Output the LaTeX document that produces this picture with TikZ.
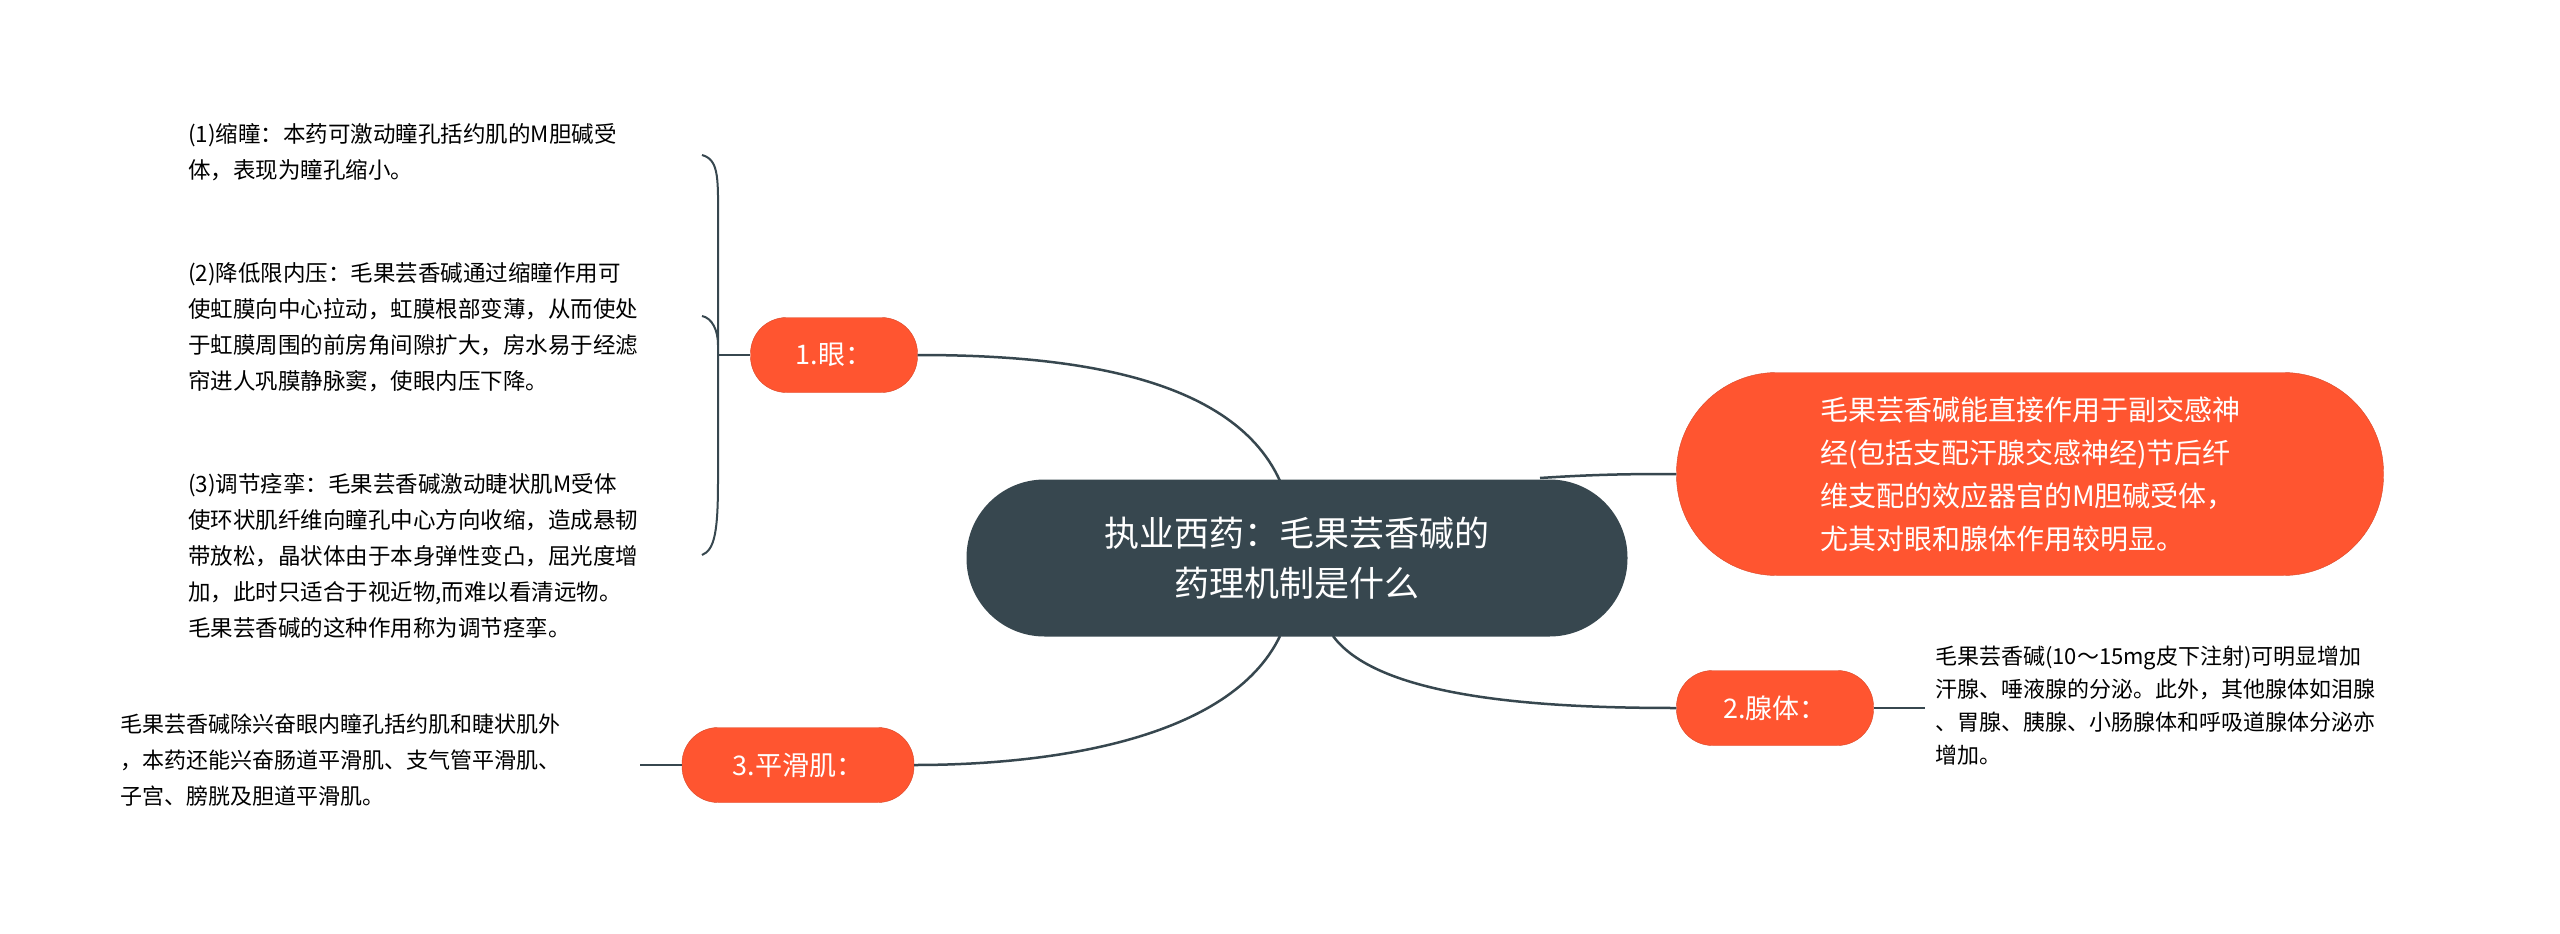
\documentclass[tikz,border=0pt]{standalone}
\usepackage{fontspec}
\setmainfont{Noto Sans CJK SC}
\begin{document}
\begin{tikzpicture}[x=1pt,y=-1pt,
  conn/.style={draw=ctr,line width=2.5pt},
  branch/.style={fill=org,draw=org!85!black,rounded corners=36pt,text=white,font=\fontsize{27}{33}\selectfont,minimum height=75pt,inner sep=0pt},
  small/.style={font=\fontsize{22.5}{36}\selectfont,align=left,anchor=north west,inner sep=0pt}]
\definecolor{ctr}{HTML}{37474F}
\definecolor{org}{HTML}{FF5530}
\useasboundingbox (0,0) rectangle (2560,934);
\fill[white] (0,0) rectangle (2560,934);
% center
\node[fill=ctr,rounded corners=78pt,minimum width=661pt,minimum height=157pt,text=white,align=center,font=\fontsize{35}{50}\selectfont] (c) at (1297,558) {执业西药：毛果芸香碱的\\药理机制是什么};
% right
\node[fill=org,draw=org!85!black,rounded corners=100pt,minimum width=707pt,minimum height=203pt,text=white,align=left,font=\fontsize{28}{43}\selectfont] (r) at (2030,474) {毛果芸香碱能直接作用于副交感神\\经(包括支配汗腺交感神经)节后纤\\维支配的效应器官的M胆碱受体，\\尤其对眼和腺体作用较明显。};
% branches
\node[branch,minimum width=167pt] (e) at (834,355) {1.眼：};
\node[branch,minimum width=197pt] (g) at (1775,708) {2.腺体：};
\node[branch,minimum width=232pt] (s) at (798,765) {3.平滑肌：};
\coordinate (ct) at (1280,481);
\coordinate (cb) at (1280,636);
\coordinate (cb2) at (1333,636);
\coordinate (cr) at (1540,478);
\draw[conn] (ct) .. controls (1230,370) and (1050,355) .. (e.east);
\draw[conn] (cb) .. controls (1230,740) and (1050,765) .. (s.east);
\draw[conn] (cb2) .. controls (1380,700) and (1550,708) .. (g.west);
\draw[conn] (cr) .. controls (1600,474) and (1640,474) .. (r.west);
% eye details
\node[small] (t1) at (188,123) {(1)缩瞳：本药可激动瞳孔括约肌的M胆碱受\\体，表现为瞳孔缩小。};
\node[small] (t2) at (188,262) {(2)降低限内压：毛果芸香碱通过缩瞳作用可\\使虹膜向中心拉动，虹膜根部变薄，从而使处\\于虹膜周围的前房角间隙扩大，房水易于经滤\\帘进人巩膜静脉窦，使眼内压下降。};
\node[small] (t3) at (188,473) {(3)调节痉挛：毛果芸香碱激动睫状肌M受体\\使环状肌纤维向瞳孔中心方向收缩，造成悬韧\\带放松，晶状体由于本身弹性变凸，屈光度增\\加，此时只适合于视近物,而难以看清远物。\\毛果芸香碱的这种作用称为调节痉挛。};
\coordinate (b1) at (702,155);
\coordinate (b2) at (702,316);
\coordinate (b3) at (702,555);
\draw[conn,line width=2pt] (b1) .. controls (720,160) and (718,180) .. (718,230) -- (718,480) .. controls (718,530) and (715,550) .. (b3);
\draw[conn,line width=2pt] (b2) .. controls (712,318) and (718,330) .. (718,345);
\draw[conn] (718,355) -- (e.west);
% gland text
\node[small,font=\fontsize{22}{33}\selectfont] (tg) at (1935,646) {毛果芸香碱(10～15mg皮下注射)可明显增加\\汗腺、唾液腺的分泌。此外，其他腺体如泪腺\\、胃腺、胰腺、小肠腺体和呼吸道腺体分泌亦\\增加。};
\coordinate (ge) at (1925,708);
\draw[conn] (g.east) -- (ge);
% smooth text
\node[small,font=\fontsize{22}{36}\selectfont] (ts) at (120,714) {毛果芸香碱除兴奋眼内瞳孔括约肌和睫状肌外\\，本药还能兴奋肠道平滑肌、支气管平滑肌、\\子宫、膀胱及胆道平滑肌。};
\coordinate (se) at (640,765);
\draw[conn] (s.west) -- (se);
\end{tikzpicture}
\end{document}
